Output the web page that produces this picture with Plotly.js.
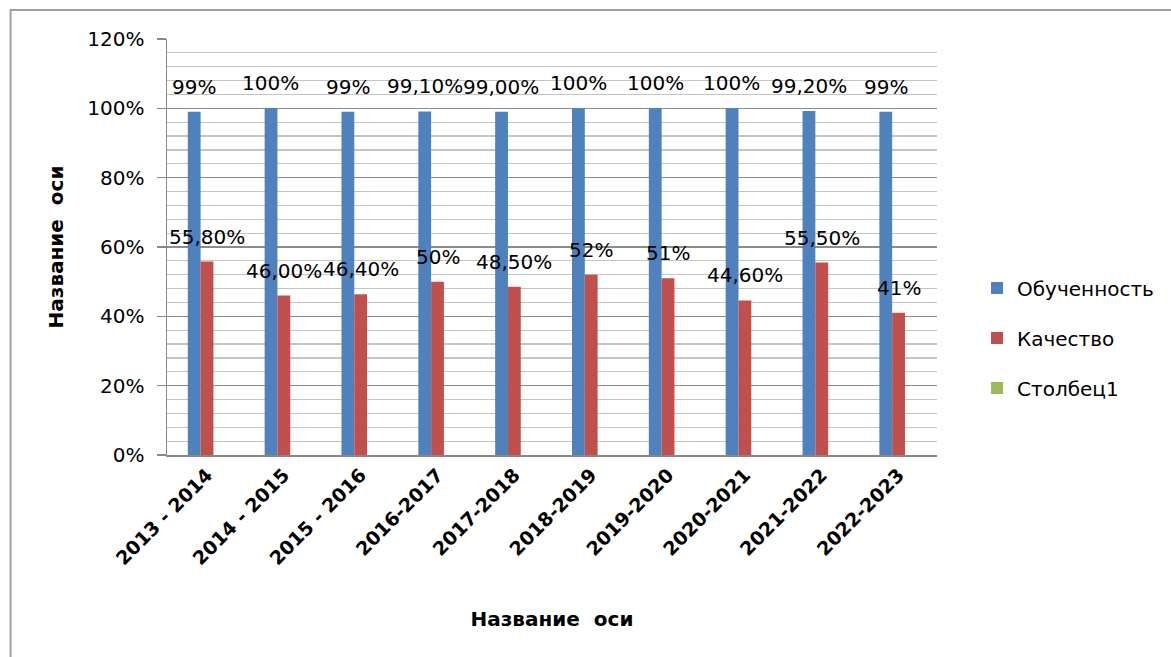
<!DOCTYPE html>
<html>
<head>
<meta charset="utf-8">
<script src="https://cdn.plot.ly/plotly-3.0.1.min.js"></script>
<style>html,body{margin:0;padding:0;background:#fff;}#chart{width:1171px;height:657px;}</style>
</head>
<body>
<div id="chart"></div>
<script>
const categories = ['2013 - 2014','2014 - 2015','2015 - 2016','2016-2017','2017-2018','2018-2019','2019-2020','2020-2021','2021-2022','2022-2023'];
const obuchennost = [99, 100, 99, 99.1, 99, 100, 100, 100, 99.2, 99];
const obuchennostLabels = ['99%','100%','99%','99,10%','99,00%','100%','100%','100%','99,20%','99%'];
const kachestvo = [55.8, 46, 46.4, 50, 48.5, 52, 51, 44.6, 55.5, 41];
const kachestvoLabels = ['55,80%','46,00%','46,40%','50%','48,50%','52%','51%','44,60%','55,50%','41%'];
const stolbec1 = [null, null, null, null, null, null, null, null, null, null];
const seriesNames = ['Обученность','Качество','Столбец1'];
const yTicks = [0, 20, 40, 60, 80, 100, 120];

const FONT = 'DejaVu Sans, sans-serif';
const colors = ['#4F81BD','#C0504D','#9BBB59'];

const traces = [obuchennost, kachestvo, stolbec1].map((vals, i) => ({
  type: 'bar', x: categories, y: vals, name: seriesNames[i],
  marker: {color: colors[i]}, legendgroup: 'g' + i, hoverinfo: 'none'
}));

const annotations = [];
categories.forEach((c, i) => {
  annotations.push({x: c, y: obuchennost[i], text: obuchennostLabels[i], showarrow: false,
    xref: 'x', yref: 'y', xshift: -13, yanchor: 'bottom', yshift: 11,
    font: {family: FONT, size: 20, color: '#000'}});
  annotations.push({x: c, y: kachestvo[i], text: kachestvoLabels[i], showarrow: false,
    xref: 'x', yref: 'y', xshift: 0, yanchor: 'bottom', yshift: 11,
    font: {family: FONT, size: 20, color: '#000'}});
});

const layout = {
  width: 1171, height: 657,
  paper_bgcolor: '#fff', plot_bgcolor: '#fff',
  margin: {l: 167, r: 226, t: 39, b: 202},
  barmode: 'group', bargap: 0.5, bargroupgap: 0,
  font: {family: FONT, color: '#000'},
  showlegend: true,
  legend: {x: 1.052, xanchor: 'left', y: 0.281, yanchor: 'middle',
    font: {family: FONT, size: 20, color: '#000'}, tracegroupgap: 21,
    bgcolor: 'rgba(0,0,0,0)'},
  xaxis: {
    type: 'category', tickangle: -45, showline: true, linecolor: '#888', linewidth: 1.5,
    showgrid: false, ticks: '', zeroline: false,
    tickfont: {family: FONT, size: 19, color: '#000', weight: 'bold'},
    title: {text: 'Название\u00a0 оси', font: {family: FONT, size: 20, color: '#000', weight: 'bold'}, standoff: 44}
  },
  yaxis: {
    range: [0, 120], tickvals: yTicks, ticktext: yTicks.map(v => v + '%'),
    showline: true, linecolor: '#888', linewidth: 1.5,
    ticks: 'outside', ticklen: 9, tickcolor: '#888', tickwidth: 1.5,
    showgrid: true, gridcolor: '#8c8c8c', gridwidth: 1.5, zeroline: false,
    minor: {dtick: 4, showgrid: true, gridcolor: '#c4c4c4', gridwidth: 1.2, ticks: ''},
    tickfont: {family: FONT, size: 20, color: '#000'},
    ticklabelstandoff: 8,
    title: {text: 'Название\u00a0 оси', font: {family: FONT, size: 20, color: '#000', weight: 'bold'}, standoff: 18}
  },
  annotations: annotations,
  shapes: [{type: 'rect', xref: 'paper', yref: 'paper', x0: -0.2031, x1: 1.5, y0: -1, y1: 1.0697,
    line: {color: '#a0a0a0', width: 2}, fillcolor: 'rgba(0,0,0,0)', layer: 'below'}]
};

Plotly.newPlot('chart', traces, layout, {displayModeBar: false, staticPlot: true});
</script>
</body>
</html>
